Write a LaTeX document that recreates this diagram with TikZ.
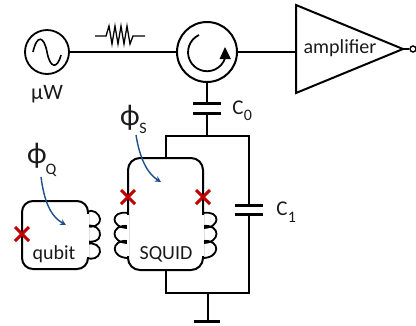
\documentclass[tikz,border=0pt]{standalone}
\usepackage{fontspec}
\setmainfont{Carlito}
\usetikzlibrary{arrows.meta,shapes.geometric}
\definecolor{txt}{HTML}{1A1A1A}
\definecolor{jj}{HTML}{C00000}
\definecolor{flux}{HTML}{1F4E8C}
\tikzset{
  wire/.style={line width=2pt,black},
  plate/.style={line width=3pt,black},
  lbl/.style={inner sep=0pt,text=txt,font=\fontsize{20}{22}\selectfont},
  sub/.style={inner sep=0pt,text=txt,font=\fontsize{16}{18}\selectfont},
  phi/.style={inner sep=0pt,text=txt,font=\fontsize{30}{32}\selectfont},
  cross/.style={jj,line width=3pt},
  fluxarrow/.style={flux,line width=1.4pt,-{Stealth[length=6pt,width=6pt]}},
  pt/.style={inner sep=0pt,minimum size=0pt},
}
\newcommand{\jjcross}[2]{\draw[cross] (#1-7,#2-7) -- (#1+7,#2+7) (#1-7,#2+7) -- (#1+7,#2-7);}
\begin{document}
\begin{tikzpicture}[x=1pt,y=-1pt]
\useasboundingbox (0,0) rectangle (416,325);
% source
\node[circle,draw,line width=1.8pt,minimum size=44pt,inner sep=0pt] (src) at (47,52) {};
\draw[line width=1.6pt] (33,52) .. controls (37,34) and (44,36) .. (47,52) .. controls (50,68) and (57,70) .. (61,55);
\node[lbl,font=\fontsize{22}{24}\selectfont] (uw) at (47,94) {µW};
% resistor
\node[pt] (rl) at (95,36) {};
\node[pt] (rr) at (145,36) {};
\draw[line width=1.3pt] (rl.center) -- (106,36) -- (109,26) -- (112,44) -- (115,26) -- (118,44) -- (121,26) -- (124,44) -- (127,26) -- (130,44) -- (133,36) -- (rr.center);
% circulator
\node[circle,draw,line width=2pt,minimum size=60pt,inner sep=0pt] (circ) at (207,52) {};
\draw[line width=1.8pt] (199,35) arc[start angle=245,end angle=18,radius=19];
\fill (225,47) -- (219.5,59) -- (231,59) -- cycle;
\draw[wire] (src) -- (circ);
% amplifier
\node[pt] (ampa) at (296,5) {};
\node[pt] (ampb) at (296,93) {};
\node[pt] (ampc) at (403,49) {};
\draw[wire,line join=miter] (ampa.center) -- (ampc.center) -- (ampb.center) -- cycle;
\node[lbl] (amp) at (340,48) {amplifier};
\draw[wire] (circ.east) -- (296,52);
\node[circle,draw,line width=1.4pt,minimum size=6pt,inner sep=0pt,fill=white] (out) at (413,49) {};
\draw[line width=2.4pt] (ampc.center) -- (out);
% C0
\node[pt] (c0a) at (207,103) {};
\node[pt] (c0b) at (207,113) {};
\draw[wire] (circ.south) -- (c0a.center);
\draw[plate] (193,103) -- (221,103);
\draw[plate] (193,113) -- (221,113);
\node[lbl,font=\fontsize{21}{23}\selectfont] (c0lab) at (238,108) {C};
\node[sub] (c0sub) at (248,115) {0};
% rails
\node[pt] (tl) at (166,136) {};
\node[pt] (tm) at (207,136) {};
\node[pt] (tr) at (249,136) {};
\node[pt] (bl) at (166,293) {};
\node[pt] (bm) at (208,293) {};
\node[pt] (br) at (249,293) {};
\draw[wire] (c0b.center) -- (tm.center);
\draw[wire,line cap=rect] (tl.center) -- (tr.center);
\draw[wire,line cap=rect] (bl.center) -- (br.center);
% C1
\draw[wire] (tr.center) -- (249,205);
\draw[wire] (249,214) -- (br.center);
\draw[plate] (235,205) -- (263,205);
\draw[plate] (235,214) -- (263,214);
\node[lbl,font=\fontsize{21}{23}\selectfont] (c1lab) at (282,209) {C};
\node[sub] (c1sub) at (292,217) {1};
% ground
\node[pt] (gnd) at (208,321) {};
\draw[wire] (bm.center) -- (gnd.center);
\draw[plate] (194,321) -- (220,321);
% coils of SQUID
\draw[line width=1.8pt] (128,213) .. controls (110,210) and (110,228) .. (128,228)
  (128,226) .. controls (110,224) and (110,243) .. (128,243)
  (128,241) .. controls (110,239) and (110,259) .. (130,258);
\draw[line width=1.8pt] (203,213) .. controls (221,210) and (221,228) .. (203,228)
  (203,226) .. controls (221,224) and (221,243) .. (203,243)
  (203,241) .. controls (221,239) and (221,259) .. (201,258);
% SQUID loop
\draw[wire,fill=white,rounded corners=12pt] (128,158) rectangle (203,270);
\draw[wire] (tl.center) -- (166,158);
\draw[wire] (166,270) -- (bl.center);
\draw[white,line width=2.6pt] (128,215) -- (128,256) (203,215) -- (203,256);
\jjcross{128}{197}
\jjcross{203}{197}
\node[lbl] (squid) at (166,254) {SQUID};
% qubit
\draw[line width=1.8pt] (87,212) .. controls (92,208) and (100,214) .. (100,219) .. controls (100,226) and (92,228) .. (86,226)
  (87,226) .. controls (94,224) and (101,229) .. (100,235) .. controls (100,241) and (92,243) .. (86,241)
  (87,244) .. controls (94,242) and (101,246) .. (100,252) .. controls (99,258) and (92,260) .. (87,258);
\draw[wire,fill=white,rounded corners=11pt] (22,201) rectangle (88,269);
\draw[white,line width=2.6pt] (88,214) -- (88,257);
\jjcross{22}{234}
\node[lbl] (qubit) at (54,254) {qubit};
% flux
\node[phi] (pq) at (37,156) {ϕ};
\node[sub] (pqs) at (51,170) {Q};
\node[pt] (fq) at (66,225) {};
\draw[fluxarrow] (41,177) .. controls (44,200) and (50,216) .. (fq.center);
\node[phi] (ps) at (130,118) {ϕ};
\node[sub] (pss) at (143,128) {S};
\node[pt] (fs) at (161,182) {};
\draw[fluxarrow] (136,135) .. controls (140,160) and (148,174) .. (fs.center);
\end{tikzpicture}
\end{document}
